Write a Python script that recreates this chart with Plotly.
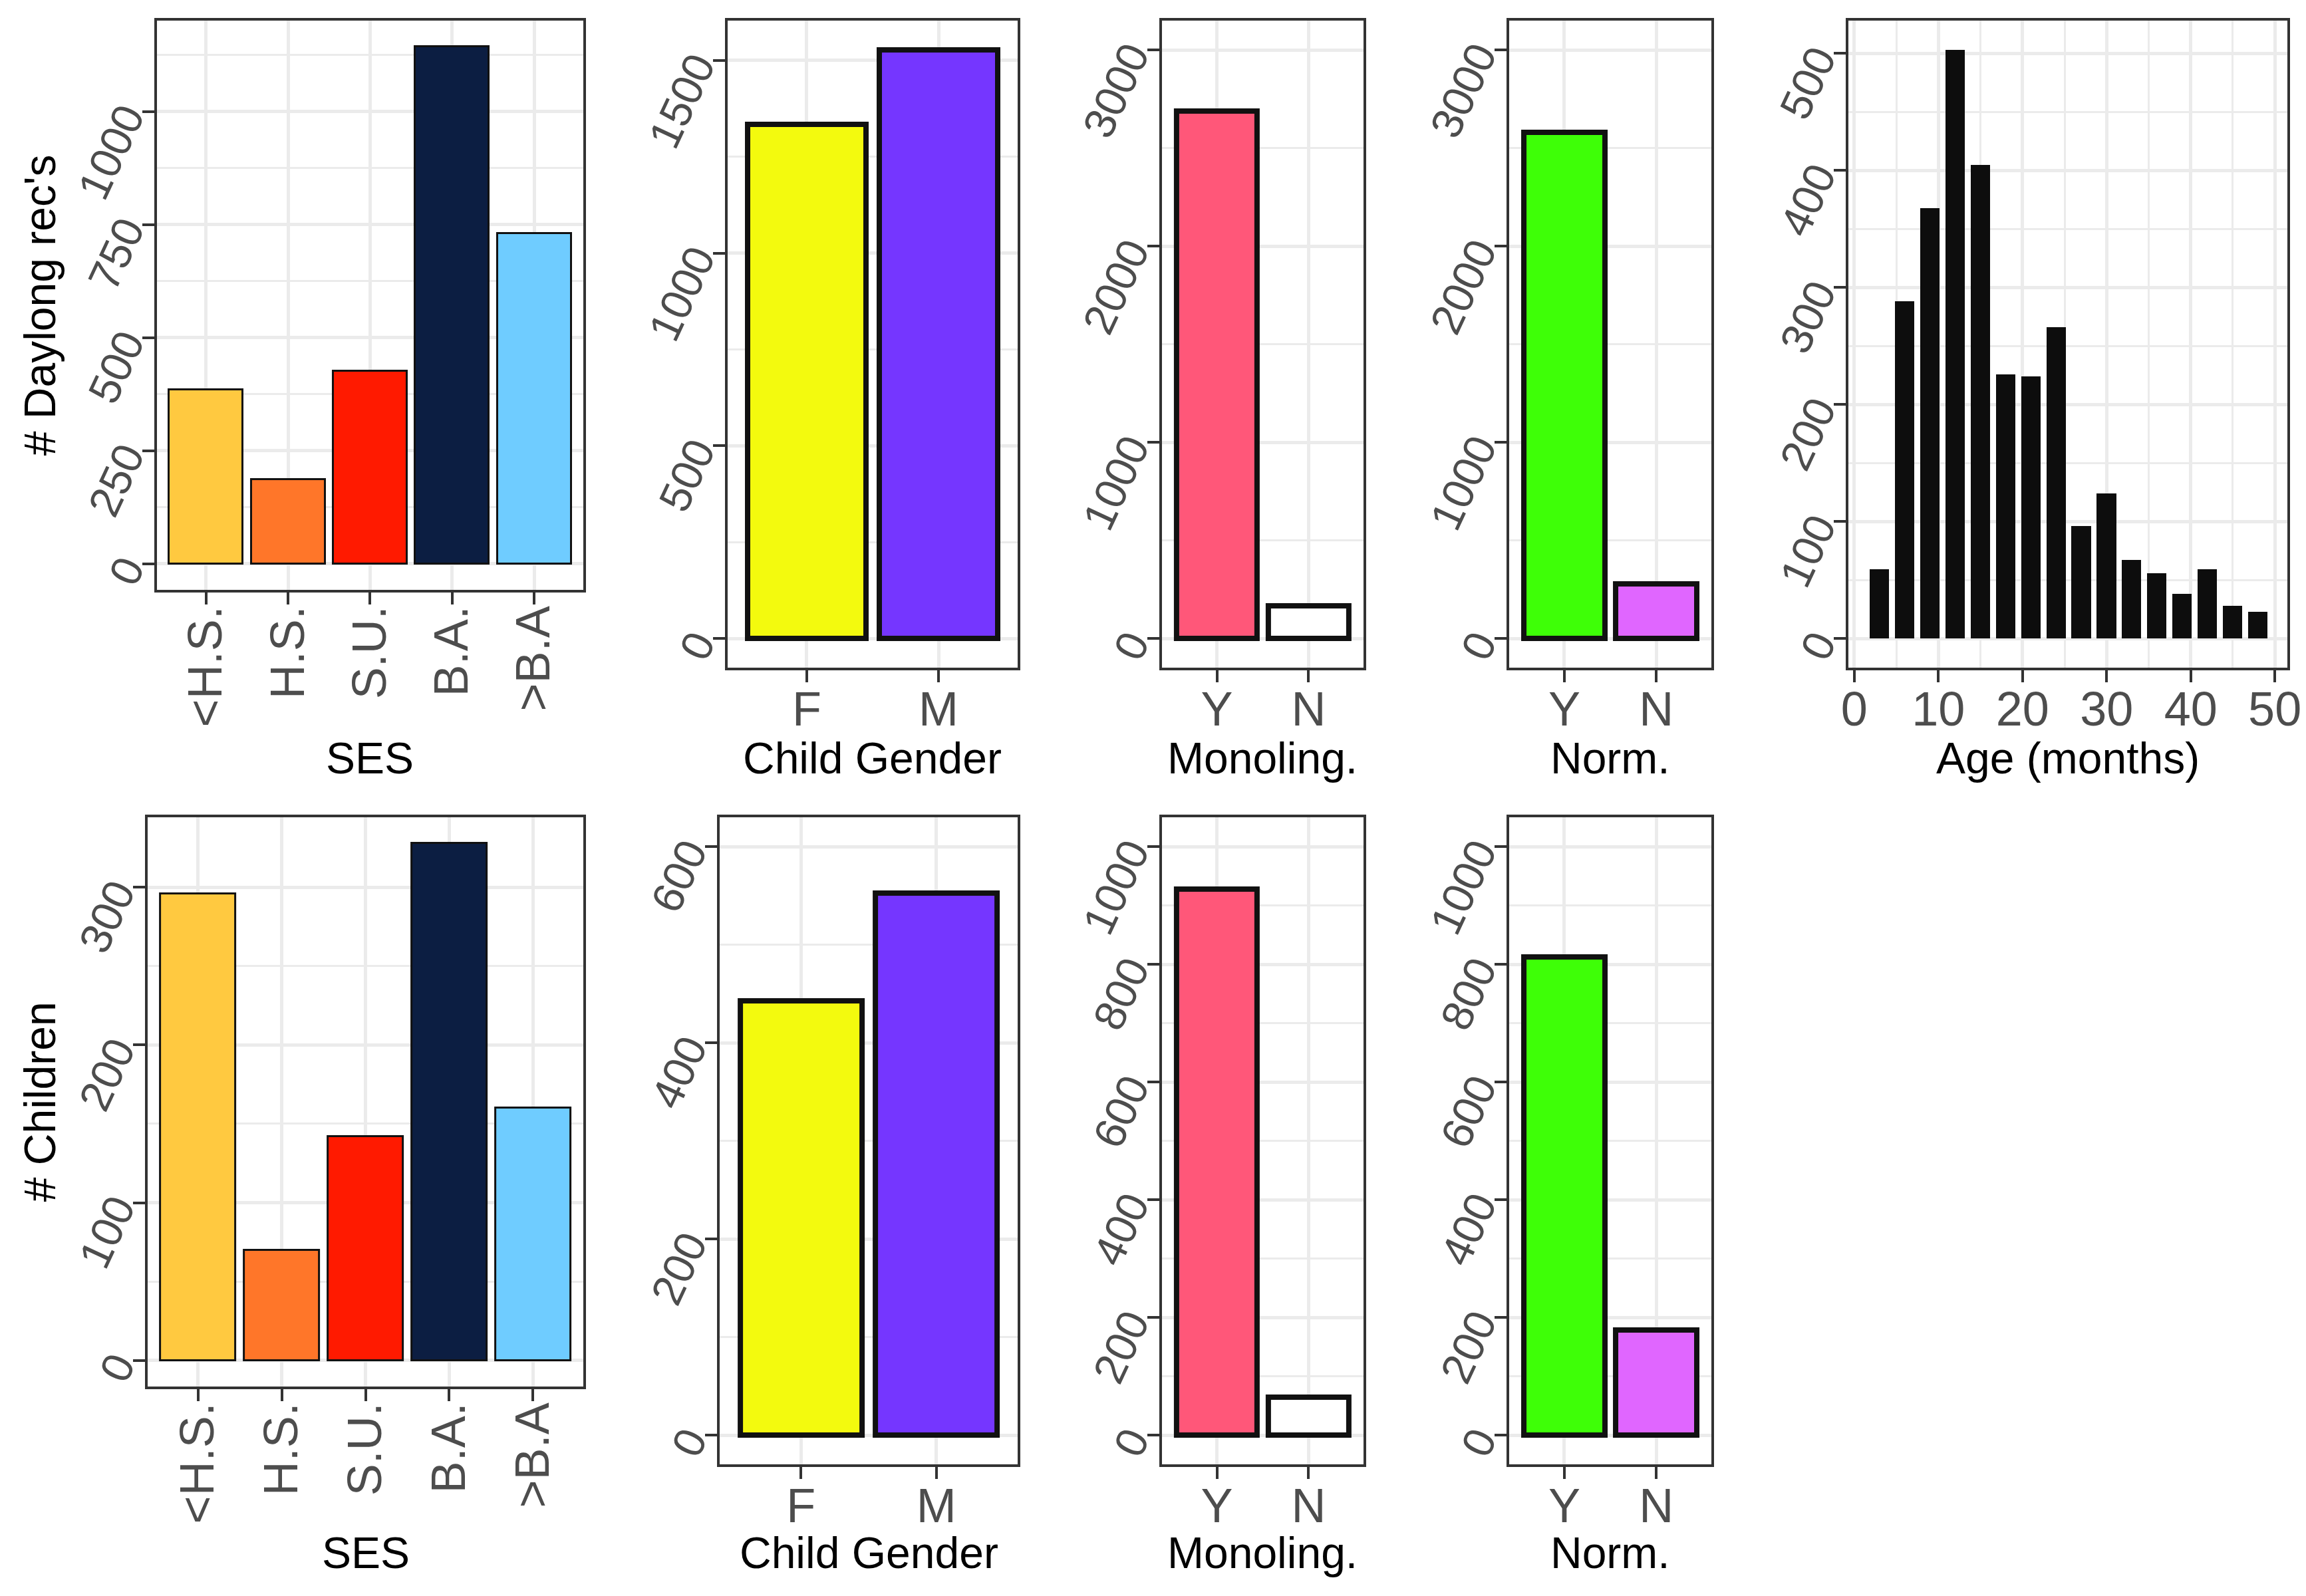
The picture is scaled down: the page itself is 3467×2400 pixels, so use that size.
import plotly.graph_objects as go

# ---------------- data ----------------
ses_cats = ["<H.S.", "H.S.", "S.U.", "B.A.", ">B.A"]
ses_colors = ["#FFC940", "#FF7629", "#FF1A00", "#0C1E42", "#6FCCFF"]
gender_cats = ["F", "M"]
gender_colors = ["#F3FA0E", "#7536FF"]
yn_cats = ["Y", "N"]
mono_colors = ["#FF5779", "#FFFFFF"]
norm_colors = ["#3EFF07", "#E066FF"]

ses_recs = [385, 186, 426, 1144, 731]
gender_recs = [1334, 1527]
mono_recs = [2690, 165]
norm_recs = [2580, 280]

age_months = [3, 6, 9, 12, 15, 18, 21, 24, 27, 30, 33, 36, 39, 42, 45, 48]
age_recs = [59, 288, 368, 503, 405, 226, 224, 266, 96, 124, 67, 56, 38, 59, 28, 23]

ses_children = [296, 70, 142, 328, 160]
gender_children = [443, 553]
mono_children = [928, 65]
norm_children = [813, 179]

# ---------------- layout helpers ----------------
W, H = 3467, 2400
FONT = "Liberation Sans, Arial, Helvetica, sans-serif"
TICK_COL = "#4D4D4D"
LINE_COL = "#333333"
GRID_COL = "#EBEBEB"


def xd(a, b):
    return [a / W, b / W]


def yd(top, bot):
    return [1 - bot / H, 1 - top / H]


def expand(lo, hi, m=0.05):
    s = hi - lo
    return [lo - m * s, hi + m * s]


fig = go.Figure()

panels = [
    dict(xp=(219, 866), yp=(23, 880), x=ses_cats, y=ses_recs, c=ses_colors, lw=3, bw=0.9,
         yr=expand(0, max(ses_recs)), dt=250, rot=True, title="SES"),
    dict(xp=(1085, 1525), yp=(23, 998), x=gender_cats, y=gender_recs, c=gender_colors, lw=8, bw=0.9,
         yr=expand(0, max(gender_recs)), dt=500, title="Child Gender"),
    dict(xp=(1744, 2050), yp=(23, 998), x=yn_cats, y=mono_recs, c=mono_colors, lw=8, bw=0.88,
         yr=expand(0, 3000), dt=1000, title="Monoling."),
    dict(xp=(2271, 2578), yp=(23, 998), x=yn_cats, y=norm_recs, c=norm_colors, lw=8, bw=0.88,
         yr=expand(0, 3000), dt=1000, title="Norm."),
    dict(xp=(2786, 3452), yp=(23, 998), x=age_months, y=age_recs, c="#0D0D0D", lw=0, bw=2.3,
         yr=expand(0, max(age_recs)), dt=100, numeric=True, title="Age (months)"),
    dict(xp=(205, 866), yp=(1223, 2080), x=ses_cats, y=ses_children, c=ses_colors, lw=3, bw=0.9,
         yr=expand(0, max(ses_children)), dt=100, rot=True, title="SES"),
    dict(xp=(1073, 1525), yp=(1223, 2198), x=gender_cats, y=gender_children, c=gender_colors, lw=8, bw=0.9,
         yr=expand(0, 600), dt=200, title="Child Gender"),
    dict(xp=(1744, 2050), yp=(1223, 2198), x=yn_cats, y=mono_children, c=mono_colors, lw=8, bw=0.88,
         yr=expand(0, 1000), dt=200, title="Monoling."),
    dict(xp=(2271, 2578), yp=(1223, 2198), x=yn_cats, y=norm_children, c=norm_colors, lw=8, bw=0.88,
         yr=expand(0, 1000), dt=200, title="Norm."),
]

layout = dict(
    width=W, height=H, margin=dict(l=0, r=0, t=0, b=0),
    paper_bgcolor="white", plot_bgcolor="white", showlegend=False,
    font=dict(family=FONT, color=TICK_COL),
    bargap=0,
)
annotations = []

for i, p in enumerate(panels):
    n = i + 1
    xa = "x" if n == 1 else f"x{n}"
    ya = "y" if n == 1 else f"y{n}"
    fig.add_trace(go.Bar(
        x=p["x"], y=p["y"], xaxis=xa, yaxis=ya, width=p["bw"],
        marker=dict(color=p["c"], line=dict(color="#111111", width=p["lw"])),
        hoverinfo="x+y",
    ))
    common_axis = dict(
        showline=True, mirror=True, linecolor=LINE_COL, linewidth=4,
        ticks="outside", ticklen=18, tickwidth=4, tickcolor=LINE_COL,
        showgrid=True, gridcolor=GRID_COL, gridwidth=5, zeroline=False,
    )
    if p.get("numeric"):
        xaxis = dict(common_axis, domain=xd(*p["xp"]), anchor=ya, range=[-0.68, 51.5],
                     tickmode="linear", tick0=0, dtick=10,
                     minor=dict(dtick=5, tick0=0, showgrid=True, gridcolor=GRID_COL, gridwidth=3, ticks=""),
                     tickfont=dict(size=72, color=TICK_COL, family=FONT), tickangle=0,
                     ticklabeloverflow="allow", ticklabelstandoff=-22)
    else:
        ncat = len(p["x"])
        rot = p.get("rot", False)
        xaxis = dict(common_axis, domain=xd(*p["xp"]), anchor=ya, type="category",
                     range=[-0.6, ncat - 0.4],
                     tickfont=dict(size=72, color=TICK_COL, family=FONT),
                     tickangle=-90 if rot else 0,
                     ticklabelstandoff=-26 if rot else -22)
    yaxis = dict(common_axis, domain=yd(*p["yp"]), anchor=xa, range=p["yr"],
                 tickmode="linear", tick0=0, dtick=p["dt"],
                 minor=dict(dtick=p["dt"] / 2, tick0=0, showgrid=True, gridcolor=GRID_COL, gridwidth=3, ticks=""),
                 tickfont=dict(size=66, color=TICK_COL, family=FONT), tickangle=-65,
                 ticklabelstandoff=12)
    layout["xaxis" if n == 1 else f"xaxis{n}"] = xaxis
    layout["yaxis" if n == 1 else f"yaxis{n}"] = yaxis

    cx = (p["xp"][0] + p["xp"][1]) / 2
    cy = 1134 if p["yp"][0] < 1000 else 2331
    annotations.append(dict(
        text=p["title"], xref="paper", yref="paper", x=cx / W, y=1 - cy / H,
        xanchor="center", yanchor="middle", showarrow=False,
        font=dict(size=66, color="black", family=FONT)))

for label, cy in (("# Daylong rec's", 452), ("# Children", 1652)):
    annotations.append(dict(text=label, xref="paper", yref="paper", x=0, y=1 - cy / H,
                            xanchor="left", yanchor="middle", showarrow=False, textangle=-90,
                            xshift=2,
                            font=dict(size=66, color="black", family=FONT)))
layout["annotations"] = annotations
fig.update_layout(**layout)

fig.write_html("out.html")
